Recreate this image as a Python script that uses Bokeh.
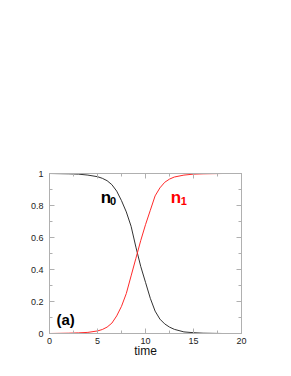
from bokeh.plotting import figure
from bokeh.models import LinearAxis, FixedTicker, Range1d, ColumnDataSource
from bokeh.core.properties import value
from bokeh.embed import file_html
from bokeh.resources import INLINE

# data
t = [0, 1, 2, 3, 4, 5, 5.5, 6, 6.5, 7, 7.5, 8, 8.5, 9, 9.5, 10, 10.5, 11,
     11.5, 12, 12.5, 13, 14, 15, 16, 17, 18, 20]
n0 = [1.0, 0.999, 0.998, 0.996, 0.99, 0.98, 0.97, 0.955, 0.93, 0.89, 0.83,
      0.76, 0.67, 0.54, 0.42, 0.32, 0.22, 0.14, 0.09, 0.06, 0.04, 0.026,
      0.01, 0.005, 0.002, 0.001, 0.0, 0.0]
n1 = [0.0, 0.001, 0.002, 0.004, 0.007, 0.016, 0.025, 0.04, 0.065, 0.11, 0.17,
      0.25, 0.36, 0.47, 0.58, 0.68, 0.77, 0.86, 0.91, 0.945, 0.965, 0.978,
      0.99, 0.996, 0.998, 0.999, 1.0, 1.0]

x_ticks = [0, 5, 10, 15, 20]
x_minor = [2.5, 7.5, 12.5, 17.5]
y_ticks = [0, 0.2, 0.4, 0.6, 0.8, 1]
y_minor = [0.1, 0.3, 0.5, 0.7, 0.9]
y_tick_labels = ["0", "0.2", "0.4", "0.6", "0.8", "1"]

FONT = "Liberation Sans"
AXIS_GREY = "#b0b0b0"

p = figure(frame_width=192, frame_height=160,
           min_border_left=49, min_border_right=50,
           min_border_top=173, min_border_bottom=43,
           x_range=Range1d(0, 20), y_range=Range1d(0, 1),
           output_backend="svg", toolbar_location=None)
p.xgrid.visible = False
p.ygrid.visible = False
p.outline_line_color = AXIS_GREY

p.line(t, n0, line_color="#333333", line_width=1)
p.line(t, n1, line_color="#ff2a2a", line_width=1)

def style(ax, ticks, minor, show_labels):
    ax.ticker = FixedTicker(ticks=ticks, minor_ticks=minor)
    ax.axis_line_color = AXIS_GREY
    ax.major_tick_line_color = AXIS_GREY
    ax.minor_tick_line_color = AXIS_GREY
    ax.major_tick_in = 5
    ax.major_tick_out = 0
    ax.minor_tick_in = 3
    ax.minor_tick_out = 0
    ax.major_label_text_font = FONT
    ax.major_label_text_font_size = "9px"
    ax.major_label_text_color = "#222222"
    if not show_labels:
        ax.major_label_text_alpha = 0
        ax.major_label_text_font_size = "1px"
        ax.major_label_standoff = 0

style(p.xaxis[0], x_ticks, x_minor, True)
style(p.yaxis[0], y_ticks, y_minor, True)
p.xaxis[0].major_label_standoff = 4
p.yaxis[0].major_label_standoff = 6
p.yaxis[0].major_label_overrides = {k: s for k, s in zip(y_ticks, y_tick_labels)}

p.xaxis[0].axis_label = "time"
p.xaxis[0].axis_label_text_font = FONT
p.xaxis[0].axis_label_text_font_style = "normal"
p.xaxis[0].axis_label_text_font_size = "12px"
p.xaxis[0].axis_label_standoff = -3
p.xaxis[0].axis_label_text_color = "#111111"

top = LinearAxis()
style(top, x_ticks, x_minor, False)
p.add_layout(top, "above")
right = LinearAxis()
style(right, y_ticks, y_minor, False)
p.add_layout(right, "right")

# labels
lab_main = ColumnDataSource(dict(x=[5.34, 12.64], y=[0.85, 0.85],
                                 text=["n", "n"], color=["#000000", "#ff0000"]))
lab_sub = ColumnDataSource(dict(x=[6.3, 13.67], y=[0.83, 0.83],
                                text=["0", "1"], color=["#000000", "#ff0000"]))
p.text(x="x", y="y", text="text", text_color="color", source=lab_main,
       text_font=value(FONT), text_font_style="bold", text_font_size="17px",
       text_baseline="alphabetic", text_align="left")
p.text(x="x", y="y", text="text", text_color="color", source=lab_sub,
       text_font=value(FONT), text_font_style="bold", text_font_size="11px",
       text_baseline="alphabetic", text_align="left")
p.text(x=[0.73], y=[0.088], text=["(a)"], text_color="#000000",
       text_font=value(FONT), text_font_style="bold", text_font_size="15px",
       text_baseline="alphabetic", text_align="left")

open("out.html", "w").write(file_html(p, INLINE))
